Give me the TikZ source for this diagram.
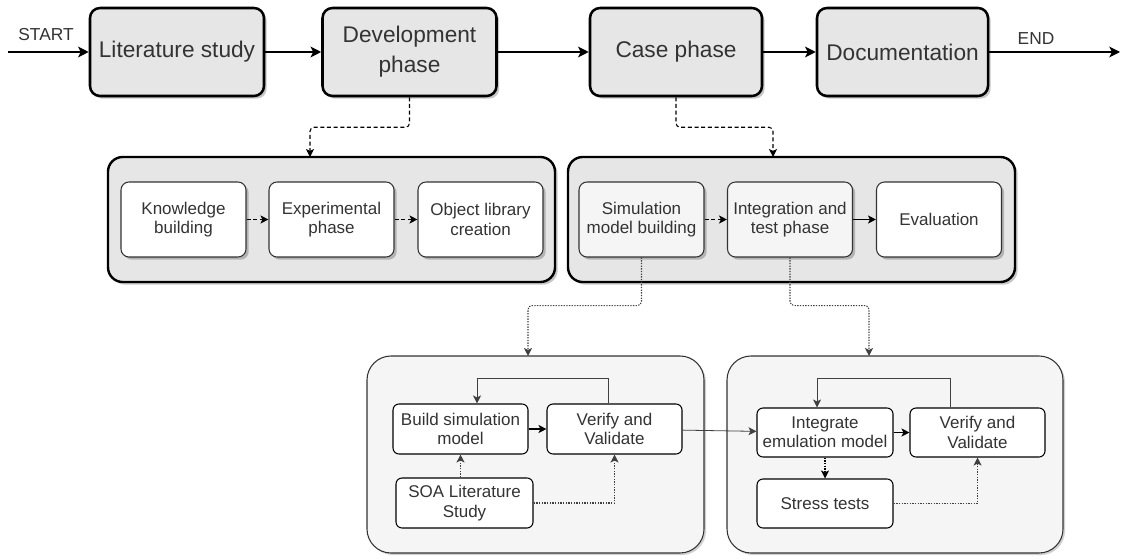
\documentclass[tikz,border=0pt]{standalone}
\usepackage{fontspec}
\setmainfont{Liberation Sans}
\usetikzlibrary{arrows.meta,shadows}
\definecolor{txt}{HTML}{333333}
\definecolor{panel}{HTML}{E6E6E6}
\definecolor{soft}{HTML}{F5F5F5}
\definecolor{wire}{HTML}{404040}

\begin{document}
\begin{tikzpicture}[x=0.75pt,y=-0.75pt,
  wh/.style 2 args={minimum width=#1*0.75pt, minimum height=#2*0.75pt, inner sep=0pt},
  shade/.style={drop shadow={shadow xshift=2pt, shadow yshift=-2pt, fill=black, opacity=0.22}},
  phase/.style={draw=black, line width=1.9pt, fill=panel, rounded corners=7.5pt, shade,
    font=\fontsize{17}{22.5}\selectfont, text=txt, align=center},
  group/.style={draw=black, line width=1.8pt, fill=panel, rounded corners=11pt, shade},
  task/.style={draw=txt, line width=0.8pt, fill=white, rounded corners=6pt, shade,
    font=\fontsize{12.75}{14.5}\selectfont, text=txt, align=center},
  subgroup/.style={draw=txt, line width=0.8pt, fill=soft, rounded corners=18pt,
    drop shadow={shadow xshift=1.5pt, shadow yshift=-1.5pt, fill=black, opacity=0.18}},
  actbox/.style={draw=black, line width=0.8pt, fill=white, rounded corners=4.5pt,
    font=\fontsize{12.75}{14.5}\selectfont, text=txt, align=center},
  flow/.style={line width=1.5pt, -{Stealth[length=8pt,width=8pt,inset=2pt]}},
  link/.style={line width=0.8pt, -{Stealth[length=6pt,width=6pt,inset=1.5pt]}},
  dashlink/.style={link, dash pattern=on 3pt off 2pt},
  dotlink/.style={link, draw=wire, dash pattern=on 1pt off 1pt, rounded corners=3pt},
  greylink/.style={link, draw=wire, line width=0.6pt},
  label/.style={font=\fontsize{13}{15}\selectfont, text=txt, inner sep=0pt}
]
\useasboundingbox (0,0) rectangle (1126,559);

% main phases
\node[phase, wh={174}{88}] (lit)  at (177,52)   {Literature study};
\node[phase, wh={174}{88}] (dev)  at (409.5,52) {Development\\phase};
\node[phase, wh={172}{88}] (case) at (676,52)   {Case phase};
\node[phase, wh={171}{88}] (doc)  at (902.5,52) {Documentation};

\coordinate (start) at (8,52);
\coordinate (end) at (1120,52);
\node[label] (startlbl) at (46,35) {START};
\node[label] (endlbl) at (1036,39) {END};

\draw[flow] (start) -- (lit);
\draw[flow] (lit) -- (dev);
\draw[flow] (dev) -- (case);
\draw[flow] (case) -- (doc);
\draw[flow] (doc) -- (end);

% development and case phase breakdown
\node[group, wh={447}{125}] (dg) at (331.5,219.5) {};
\node[group, wh={447}{125}] (cg) at (791.5,219.5) {};

\node[task, wh={125}{75}] (kb) at (183.5,219.5) {Knowledge\\building};
\node[task, wh={125}{75}] (ep) at (331.5,219.5) {Experimental\\phase};
\node[task, wh={125}{75}] (ol) at (480.5,219.5) {Object library\\creation};

\node[task, wh={125}{75}, fill=soft] (sm) at (641.5,219.5) {Simulation\\model building};
\node[task, wh={125}{75}, fill=soft] (it) at (790,219.5) {Integration and\\test phase};
\node[task, wh={125}{75}] (ev) at (939,219.5) {Evaluation};

\coordinate (dgin) at (310,157);
\coordinate (cgin) at (773,157);
\draw[dashlink, rounded corners=3pt] (dev.south) -- ++(0,30) -| (dgin);
\draw[dashlink, rounded corners=3pt] (case.south) -- ++(0,30) -| (cgin);

\draw[dashlink] (kb) -- (ep);
\draw[dashlink] (ep) -- (ol);
\draw[dashlink] (sm) -- (it);
\draw[link] (it) -- (ev);

% simulation model building
\node[subgroup, wh={337}{197}] (sg) at (535.5,454.5) {};
\node[actbox, wh={135}{50}] (bs)  at (460.5,429) {Build simulation\\model};
\node[actbox, wh={135}{50}] (vv1) at (614.5,429) {Verify and\\Validate};
\node[actbox, wh={137}{50}] (soa) at (464.5,503) {SOA Literature\\Study};

% integration and test phase
\node[subgroup, wh={336}{197}] (tg) at (895,454.5) {};
\node[actbox, wh={136}{49}] (ie)  at (825,432.5) {Integrate\\emulation model};
\node[actbox, wh={135}{49}] (vv2) at (977.5,432.5) {Verify and\\Validate};
\node[actbox, wh={136}{49}] (st)  at (825,503.5) {Stress tests};

\coordinate (sgin) at (528,356);
\coordinate (tgin) at (869,356);
\draw[dotlink] (sm.south) -- ++(0,48) -| (sgin);
\draw[dotlink] (it.south) -- ++(0,48) -| (tgin);

\draw[greylink] ([xshift=-6.5*0.75pt]vv1.north) -- ++(0,-25) -| ([xshift=16.5*0.75pt]bs.north);
\draw[link] (bs) -- (vv1);
\draw[dotlink] (soa.north -| bs.south) -- (bs.south);
\draw[dotlink, rounded corners=0pt] (soa.east) -| (vv1.south);

\draw[greylink] (vv1) -- (ie);

\draw[greylink] ([xshift=-27.5*0.75pt]vv2.north) -- ++(0,-29) -| ([xshift=-8*0.75pt]ie.north);
\draw[link] (ie) -- (vv2);
\draw[dotlink, draw=black] (ie.south) -- (st.north);
\draw[dotlink, rounded corners=0pt] (st.east) -| (vv2.south);
\end{tikzpicture}
\end{document}
